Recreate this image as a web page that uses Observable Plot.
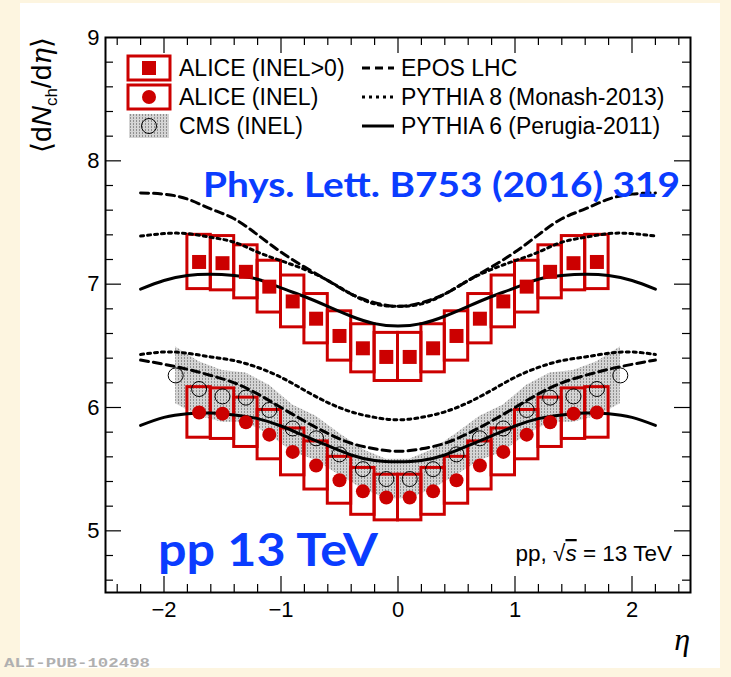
<!DOCTYPE html>
<html><head><meta charset="utf-8">
<script src="https://cdn.jsdelivr.net/npm/d3@7"></script>
<script src="https://cdn.jsdelivr.net/npm/@observablehq/plot@0.6"></script>
<style>
html,body{margin:0;padding:0;background:#fdf5e0;width:731px;height:677px;overflow:hidden;}
#panel{position:absolute;left:20px;top:3px;width:700px;height:665px;background:#fff;}
#chart{position:absolute;left:0;top:0;}
</style></head><body>
<svg width="0" height="0" style="position:absolute">
  <defs>
    <pattern id="cmsHatch" patternUnits="userSpaceOnUse" width="3" height="3">
      <rect x="0" y="0" width="3" height="3" fill="#d4d4d4"/>
      <rect x="1" y="0" width="1" height="2" fill="#8f8f8f"/>
    </pattern>
  </defs>
</svg>
<div id="panel"></div>
<div id="chart"></div>
<script>
// ---------------- data ----------------
const aliceEta = [-1.7,-1.5,-1.3,-1.1,-0.9,-0.7,-0.5,-0.3,-0.1,0.1,0.3,0.5,0.7,0.9,1.1,1.3,1.5,1.7];
const aliceInel0 = [7.18,7.17,7.10,6.98,6.86,6.72,6.58,6.48,6.41,6.41,6.48,6.58,6.72,6.86,6.98,7.10,7.17,7.18];
const aliceInel0Sys = [0.22,0.22,0.215,0.21,0.21,0.2,0.2,0.195,0.195,0.195,0.195,0.2,0.2,0.21,0.21,0.215,0.22,0.22];
const aliceInel = [5.96,5.95,5.88,5.78,5.64,5.53,5.41,5.32,5.27,5.27,5.32,5.41,5.53,5.64,5.78,5.88,5.95,5.96];
const aliceInelSys = [0.205,0.205,0.2,0.2,0.19,0.195,0.19,0.19,0.185,0.185,0.19,0.19,0.195,0.19,0.2,0.2,0.205,0.205];
const binHalfWidth = 0.1;

const cmsEta = [-1.9,-1.7,-1.5,-1.3,-1.1,-0.9,-0.7,-0.5,-0.3,-0.1,0.1,0.3,0.5,0.7,0.9,1.1,1.3,1.5,1.7,1.9];
const cmsInel = [6.26,6.15,6.09,6.08,5.98,5.83,5.75,5.62,5.50,5.42,5.42,5.50,5.62,5.75,5.83,5.98,6.08,6.09,6.15,6.26];
const cmsSys = [0.23,0.22,0.21,0.2,0.2,0.19,0.18,0.17,0.16,0.16,0.16,0.16,0.17,0.18,0.19,0.2,0.2,0.21,0.22,0.23];

const modelEta = [-2.2,-2.0,-1.8,-1.6,-1.4,-1.2,-1.0,-0.8,-0.6,-0.4,-0.2,0,0.2,0.4,0.6,0.8,1.0,1.2,1.4,1.6,1.8,2.0,2.2];
const eposInel0 = [7.74,7.73,7.69,7.61,7.53,7.40,7.26,7.14,7.03,6.92,6.85,6.82,6.85,6.92,7.03,7.14,7.26,7.40,7.53,7.61,7.69,7.73,7.74];
const pythia8Inel0 = [7.39,7.41,7.41,7.38,7.34,7.26,7.19,7.12,7.03,6.92,6.84,6.82,6.84,6.92,7.03,7.12,7.19,7.26,7.34,7.38,7.41,7.41,7.39];
const pythia6Inel0 = [6.96,7.03,7.07,7.08,7.07,7.04,6.97,6.90,6.82,6.74,6.68,6.66,6.68,6.74,6.82,6.90,6.97,7.04,7.07,7.08,7.07,7.03,6.96];
const eposInel = [6.385,6.35,6.31,6.26,6.20,6.11,6.00,5.89,5.79,5.71,5.665,5.645,5.665,5.71,5.79,5.89,6.00,6.11,6.20,6.26,6.31,6.35,6.385];
const pythia8Inel = [6.43,6.45,6.44,6.41,6.38,6.325,6.245,6.14,6.04,5.965,5.92,5.90,5.92,5.965,6.04,6.14,6.245,6.325,6.38,6.41,6.44,6.45,6.43];
const pythia6Inel = [5.855,5.92,5.95,5.955,5.94,5.91,5.85,5.77,5.69,5.615,5.57,5.56,5.57,5.615,5.69,5.77,5.85,5.91,5.94,5.955,5.95,5.92,5.855];

const xTickLabels = [-2,-1,0,1,2];
const yTickLabels = [5,6,7,8,9];

const legendLeft = ["ALICE (INEL>0)","ALICE (INEL)","CMS (INEL)"];
const legendRight = ["EPOS LHC","PYTHIA 8 (Monash-2013)","PYTHIA 6 (Perugia-2011)"];

// ---------------- build tables ----------------
const alice0Rows = aliceEta.map((e,i)=>({eta:e, v:aliceInel0[i], s:aliceInel0Sys[i]}));
const aliceRows = aliceEta.map((e,i)=>({eta:e, v:aliceInel[i], s:aliceInelSys[i]}));
const cmsRows = cmsEta.map((e,i)=>({eta:e, v:cmsInel[i], s:cmsSys[i]}));
const mk = arr => modelEta.map((e,i)=>({eta:e, v:arr[i]}));

const RED = "#cc0000";
const W=731, H=677, mL=105, mR=41, mT=37, mB=85;
const fH = H-mT-mB, fW = W-mL-mR;
const majLen = 16, minLen = 8;
const xMajor = [-2,-1,0,1,2];
const xMinor = d3.range(-24,25,2).map(d=>d/10).filter(d=>Math.abs(d-Math.round(d))>1e-6);
const yMajor = [5,6,7,8];
const yMinor = d3.range(46,90,2).map(d=>d/10).filter(d=>Math.abs(d-Math.round(d))>1e-6);

const dash = {epos:"8,5", p8:"3,4", p6:null};
const lineOpts = (da)=>({x:"eta", y:"v", curve:"natural", stroke:"black", strokeWidth:3, strokeDasharray:da});

const tickMarks = [
  Plot.tickX(xMajor, {x:d=>d, insetTop:fH-majLen, stroke:"black", strokeWidth:1.2}),
  Plot.tickX(xMinor, {x:d=>d, insetTop:fH-minLen, stroke:"black", strokeWidth:1.2}),
  Plot.tickX(xMajor, {x:d=>d, insetBottom:fH-majLen, stroke:"black", strokeWidth:1.2}),
  Plot.tickX(xMinor, {x:d=>d, insetBottom:fH-minLen, stroke:"black", strokeWidth:1.2}),
  Plot.tickY(yMajor, {y:d=>d, insetRight:fW-majLen, stroke:"black", strokeWidth:1.2}),
  Plot.tickY(yMinor, {y:d=>d, insetRight:fW-minLen, stroke:"black", strokeWidth:1.2}),
  Plot.tickY(yMajor, {y:d=>d, insetLeft:fW-majLen, stroke:"black", strokeWidth:1.2}),
  Plot.tickY(yMinor, {y:d=>d, insetLeft:fW-minLen, stroke:"black", strokeWidth:1.2})
];

const plot = Plot.plot({
  width:W, height:H, marginLeft:mL, marginRight:mR, marginTop:mT, marginBottom:mB,
  style:{background:"transparent", fontFamily:"'Liberation Sans', Arial, sans-serif", overflow:"visible"},
  x:{domain:[-2.5,2.5]},
  y:{domain:[4.5,9]},
  marks:[
    Plot.areaY(cmsRows, {x:"eta", y1:d=>d.v-d.s, y2:d=>d.v+d.s, fill:"url(#cmsHatch)", curve:"linear"}),
    Plot.rect(alice0Rows, {x1:d=>d.eta-binHalfWidth, x2:d=>d.eta+binHalfWidth, y1:d=>d.v-d.s, y2:d=>d.v+d.s, fill:"none", stroke:RED, strokeWidth:3}),
    Plot.rect(aliceRows, {x1:d=>d.eta-binHalfWidth, x2:d=>d.eta+binHalfWidth, y1:d=>d.v-d.s, y2:d=>d.v+d.s, fill:"none", stroke:RED, strokeWidth:3}),
    Plot.line(mk(eposInel0), lineOpts(dash.epos)),
    Plot.line(mk(pythia8Inel0), lineOpts(dash.p8)),
    Plot.line(mk(pythia6Inel0), lineOpts(dash.p6)),
    Plot.line(mk(eposInel), lineOpts(dash.epos)),
    Plot.line(mk(pythia8Inel), lineOpts(dash.p8)),
    Plot.line(mk(pythia6Inel), lineOpts(dash.p6)),
    Plot.dot(cmsRows, {x:"eta", y:"v", r:7.5, stroke:"black", strokeWidth:1, fill:"none"}),
    Plot.dot(alice0Rows, {x:"eta", y:"v", symbol:"square", r:7.9, fill:RED, stroke:"none"}),
    Plot.dot(aliceRows, {x:"eta", y:"v", symbol:"circle", r:7, fill:RED, stroke:"none"}),
    ...tickMarks,
    Plot.axisX(xTickLabels, {tickSize:0, tickPadding:9, fontSize:22, label:null, tickFormat:d=>d<0?"\u2212"+(-d):String(d)}),
    Plot.axisY(yTickLabels, {tickSize:0, tickPadding:6, fontSize:22, label:null, tickFormat:d=>String(d)}),
    Plot.frame({stroke:"black", strokeWidth:2})
  ]
});
document.getElementById("chart").appendChild(plot);

// ---------------- legend & annotations ----------------
const svg = d3.select(plot);
const ann = svg.append("g").attr("text-anchor","start");
const leg = ann.append("g").attr("font-family","'Liberation Sans', Arial, sans-serif").attr("font-size",23);
const rowY = [68,97,126];
// column 1
rowY.forEach((cy,i)=>{
  if(i<2){
    leg.append("rect").attr("x",128).attr("y",cy-12).attr("width",42).attr("height",24)
      .attr("fill","white").attr("stroke",RED).attr("stroke-width",3);
  } else {
    leg.append("rect").attr("x",129).attr("y",cy-12).attr("width",40).attr("height",24)
      .attr("fill","url(#cmsHatch)");
  }
  if(i===0) leg.append("rect").attr("x",142).attr("y",cy-7).attr("width",14).attr("height",14).attr("fill",RED);
  if(i===1) leg.append("circle").attr("cx",149).attr("cy",cy).attr("r",7).attr("fill",RED);
  if(i===2) leg.append("circle").attr("cx",149).attr("cy",cy).attr("r",7.5).attr("fill","none").attr("stroke","black");
  leg.append("text").attr("text-anchor","start").attr("x",179).attr("y",cy+8).text(legendLeft[i]);
});
const legDash = [dash.epos, dash.p8, null];
rowY.forEach((cy,i)=>{
  const l = leg.append("line").attr("x1",362).attr("x2",394).attr("y1",cy).attr("y2",cy)
    .attr("stroke","black").attr("stroke-width",3);
  if(legDash[i]) l.attr("stroke-dasharray",legDash[i]);
  leg.append("text").attr("text-anchor","start").attr("x",401).attr("y",cy+8).text(legendRight[i]);
});

// y axis title
const yt = ann.append("text").attr("transform","translate(51,37) rotate(-90)")
  .attr("text-anchor","end").attr("font-family","'Liberation Sans', Arial, sans-serif").attr("font-size",28);
yt.append("tspan").text("\u27E8d");
yt.append("tspan").attr("font-style","italic").text("N");
yt.append("tspan").attr("font-size",17).attr("dy",6).text("ch");
yt.append("tspan").attr("dy",-6).text("/d");
yt.append("tspan").attr("font-style","italic").attr("font-family","'DejaVu Serif', serif").text("\u03B7");
yt.append("tspan").text("\u27E9");

// x axis title
ann.append("text").attr("x",690).attr("y",650).attr("text-anchor","end")
  .attr("font-family","'Liberation Serif', 'DejaVu Serif', serif").attr("font-style","italic").attr("font-size",32).text("\u03B7");

// blue annotations
ann.append("text").attr("text-anchor","start").attr("x",203).attr("y",197).attr("font-family","Lato, 'Open Sans', sans-serif")
  .attr("font-weight","bold").attr("font-size",35).attr("fill","#0a3cff")
  .attr("textLength",477).attr("lengthAdjust","spacingAndGlyphs").text("Phys. Lett. B753 (2016) 319");
ann.append("text").attr("text-anchor","start").attr("x",158).attr("y",566).attr("font-family","Lato, 'Open Sans', sans-serif")
  .attr("font-weight","bold").attr("font-size",45).attr("fill","#0a3cff")
  .attr("textLength",220).attr("lengthAdjust","spacingAndGlyphs").text("pp 13 TeV");

// energy label
const en = ann.append("text").attr("x",672).attr("y",561).attr("text-anchor","end")
  .attr("font-family","'Liberation Sans', Arial, sans-serif").attr("font-size",22.5);
en.append("tspan").text("pp, \u221A");
en.append("tspan").attr("font-style","italic").attr("text-decoration","overline").text("s");
en.append("tspan").text(" = 13 TeV");

// watermark
ann.append("text").attr("text-anchor","start").attr("x",4).attr("y",667).attr("font-family","'Liberation Mono', 'DejaVu Sans Mono', monospace")
  .attr("font-weight","bold").attr("font-size",12).attr("fill","#b0b0b0")
  .attr("textLength",146).attr("lengthAdjust","spacingAndGlyphs").text("ALI-PUB-102498");
</script>
</body></html>
